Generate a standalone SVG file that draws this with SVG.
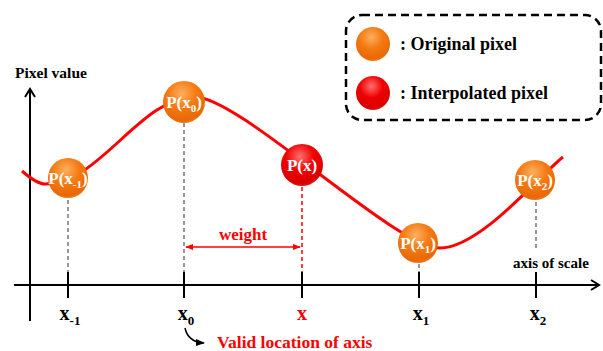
<svg xmlns="http://www.w3.org/2000/svg" width="603" height="351" viewBox="0 0 603 351">
<defs>
<radialGradient id="gOr" cx="0.45" cy="0.3" r="0.75">
<stop offset="0" stop-color="#FBB060"/>
<stop offset="0.45" stop-color="#F57A12"/>
<stop offset="0.85" stop-color="#E86805"/>
<stop offset="1" stop-color="#F08A30"/>
</radialGradient>
<radialGradient id="gRd" cx="0.45" cy="0.3" r="0.75">
<stop offset="0" stop-color="#FF7070"/>
<stop offset="0.45" stop-color="#F00000"/>
<stop offset="0.85" stop-color="#D80000"/>
<stop offset="1" stop-color="#E83030"/>
</radialGradient>
<marker id="ah" viewBox="0 0 10 10" refX="9" refY="5" markerWidth="8" markerHeight="8" orient="auto-start-reverse" markerUnits="userSpaceOnUse">
<path d="M0,1 L10,5 L0,9 z" fill="#FF0000"/>
</marker>
<marker id="bh" viewBox="0 0 10 10" refX="9" refY="5" markerWidth="9" markerHeight="9" orient="auto" markerUnits="userSpaceOnUse">
<path d="M0,1 L10,5 L0,9 z" fill="#000"/>
</marker>
</defs>
<style>
.t{font-family:"Liberation Serif","Times New Roman",serif;font-weight:bold;}
.bt{font-family:"Liberation Serif","Times New Roman",serif;font-weight:bold;fill:#fff;font-size:17px;text-anchor:middle;}
.gd{stroke:#777;stroke-width:1.5;stroke-dasharray:4,3;fill:none;}
.rd{stroke:#FF0000;stroke-width:1.5;stroke-dasharray:4,3;fill:none;}
.tk{stroke:#000;stroke-width:2;}
.lab{font-size:20px;text-anchor:middle;}
</style>
<rect width="603" height="351" fill="#fff"/>

<g id="legend">
<rect x="346" y="15" width="255" height="105" rx="16" ry="16" fill="none" stroke="#000" stroke-width="2.5" stroke-dasharray="8,5"/>
<circle cx="373" cy="44" r="17" fill="url(#gOr)"/>
<text class="t" x="400" y="50" font-size="18">: Original pixel</text>
<circle cx="373" cy="93" r="17" fill="url(#gRd)"/>
<text class="t" x="400" y="99" font-size="18">: Interpolated pixel</text>
</g>

<g id="axes">
<line x1="30" y1="89" x2="30" y2="321" stroke="#000" stroke-width="2"/>
<polyline points="25,97 30,89 35,97" fill="none" stroke="#000" stroke-width="2"/>
<line x1="14" y1="285" x2="599" y2="285" stroke="#000" stroke-width="2"/>
<polyline points="591,280 599,285 591,290" fill="none" stroke="#000" stroke-width="2"/>
<text class="t" x="15" y="78" font-size="15.5">Pixel value</text>
<text class="t" x="513" y="268" font-size="15">axis of scale</text>
</g>

<g id="connectors">
<line class="gd" x1="68" y1="200" x2="68" y2="272"/>
<line class="gd" x1="184" y1="123" x2="184" y2="272"/>
<line class="gd" x1="419" y1="264" x2="419" y2="272"/>
<line class="gd" x1="536" y1="202" x2="536" y2="250"/>
<line class="rd" x1="302" y1="187" x2="302" y2="272"/>
<line class="tk" x1="68" y1="272" x2="68" y2="298"/>
<line class="tk" x1="184" y1="272" x2="184" y2="298"/>
<line class="tk" x1="302" y1="272" x2="302" y2="298"/>
<line class="tk" x1="419" y1="272" x2="419" y2="298"/>
<line class="tk" x1="536" y1="272" x2="536" y2="298"/>
<path d="M22,171 C30,178 38,184 45,184 C100,184 140,97 195,97 C240,97 395,248 440,248 C480,248 540,175 563,157" fill="none" stroke="#FF0000" stroke-width="3"/>
<line x1="186" y1="247" x2="300" y2="247" stroke="#FF0000" stroke-width="1.5" marker-start="url(#ah)" marker-end="url(#ah)"/>
<text class="t" x="243" y="240" font-size="17" fill="#FF0000" text-anchor="middle">weight</text>
<path d="M185,328 Q188,342 204,343" fill="none" stroke="#000" stroke-width="1.5" marker-end="url(#bh)"/>
<text class="t" x="217" y="348" font-size="17.5" fill="#FF0000">Valid location of axis</text>
</g>

<g id="p-xm1">
<circle cx="68" cy="178" r="20" fill="url(#gOr)"/>
<text class="bt" x="68" y="184">P(x<tspan font-size="11" dy="4">-1</tspan><tspan dy="-4">)</tspan></text>
</g>
<g id="p-x0">
<circle cx="184" cy="102" r="21" fill="url(#gOr)"/>
<text class="bt" x="184" y="108">P(x<tspan font-size="11" dy="4">0</tspan><tspan dy="-4">)</tspan></text>
</g>
<g id="p-x">
<circle cx="302" cy="165" r="21" fill="url(#gRd)"/>
<text class="bt" x="302" y="171">P(x)</text>
</g>
<g id="p-x1">
<circle cx="418" cy="243" r="20" fill="url(#gOr)"/>
<text class="bt" x="418" y="249">P(x<tspan font-size="11" dy="4">1</tspan><tspan dy="-4">)</tspan></text>
</g>
<g id="p-x2">
<circle cx="535" cy="180" r="20" fill="url(#gOr)"/>
<text class="bt" x="535" y="186">P(x<tspan font-size="11" dy="4">2</tspan><tspan dy="-4">)</tspan></text>
</g>

<g id="labels">
<text class="t lab" x="70" y="320">x<tspan font-size="13" dy="5">-1</tspan></text>
<text class="t lab" x="186" y="320">x<tspan font-size="13" dy="5">0</tspan></text>
<text class="t lab" x="302" y="320" fill="#FF0000">x</text>
<text class="t lab" x="421" y="320">x<tspan font-size="13" dy="5">1</tspan></text>
<text class="t lab" x="538" y="320">x<tspan font-size="13" dy="5">2</tspan></text>
</g>
</svg>
